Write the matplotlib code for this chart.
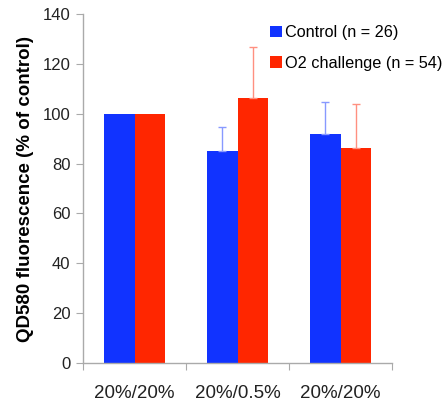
import matplotlib
matplotlib.use("Agg")
import matplotlib.pyplot as plt
import numpy as np

plt.rcParams['font.family'] = ['Liberation Sans', 'DejaVu Sans']

categories = ["20%/20%", "20%/0.5%", "20%/20%"]
control = [100, 85.0, 91.7]
control_err = [0, 9.5, 13.2]
o2 = [100, 106.5, 86.2]
o2_err = [0, 20.4, 17.8]
series_labels = ["Control (n = 26)", "O2 challenge (n = 54)"]
yticks = [0, 20, 40, 60, 80, 100, 120, 140]

blue = "#1133FF"
red = "#FF2600"

fig = plt.figure(figsize=(4.43, 4.05), dpi=100)
ax = fig.add_axes([0.1874, 0.1037, 0.6976, 0.8617])

x = np.arange(len(categories))
w = 0.3
ax.bar(x - w/2, control, w, color=blue, label=series_labels[0], zorder=2)
ax.bar(x + w/2, o2, w, color=red, label=series_labels[1], zorder=2)

for xs, vals, errs, col in [(x - w/2, control, control_err, '#8899FF'),
                            (x + w/2, o2, o2_err, '#FF9080')]:
    for xi, v, e in zip(xs, vals, errs):
        if e > 0:
            ax.errorbar([xi], [v], yerr=[[0], [e]], fmt='none', ecolor=col,
                        elinewidth=1, capsize=3, capthick=1, zorder=3)

ax.set_xlim(-0.5, 2.5)
ax.set_ylim(0, 140)
ax.set_yticks(yticks)
ax.set_yticklabels([str(v) for v in yticks], fontsize=12, color='#222222')
ax.set_xticks([-0.5, 0.5, 1.5, 2.5])
ax.set_xticklabels([])
ax.set_xticks(x, minor=True)
ax.set_xticklabels(categories, minor=True, fontsize=13.5, color='#222222')
ax.tick_params(axis='x', which='minor', length=0, pad=16)
ax.tick_params(axis='x', which='major', length=5, color='#aaaaaa', direction='out')
ax.tick_params(axis='y', length=5, color='#aaaaaa', direction='out', pad=4)

for s in ['top', 'right']:
    ax.spines[s].set_visible(False)
for s in ['left', 'bottom']:
    ax.spines[s].set_color('#aaaaaa')
    ax.spines[s].set_linewidth(1)

ax.set_ylabel("QD580 fluorescence (% of control)", fontsize=13.5, fontweight='bold', labelpad=6)

leg = ax.legend(loc='upper left', bbox_to_anchor=(0.605, 0.968), frameon=False, fontsize=11.7,
                handlelength=0.75, handleheight=0.75, handletextpad=0.2, labelspacing=0.95,
                borderaxespad=0, borderpad=0)

fig.savefig("out.png", dpi=100)
